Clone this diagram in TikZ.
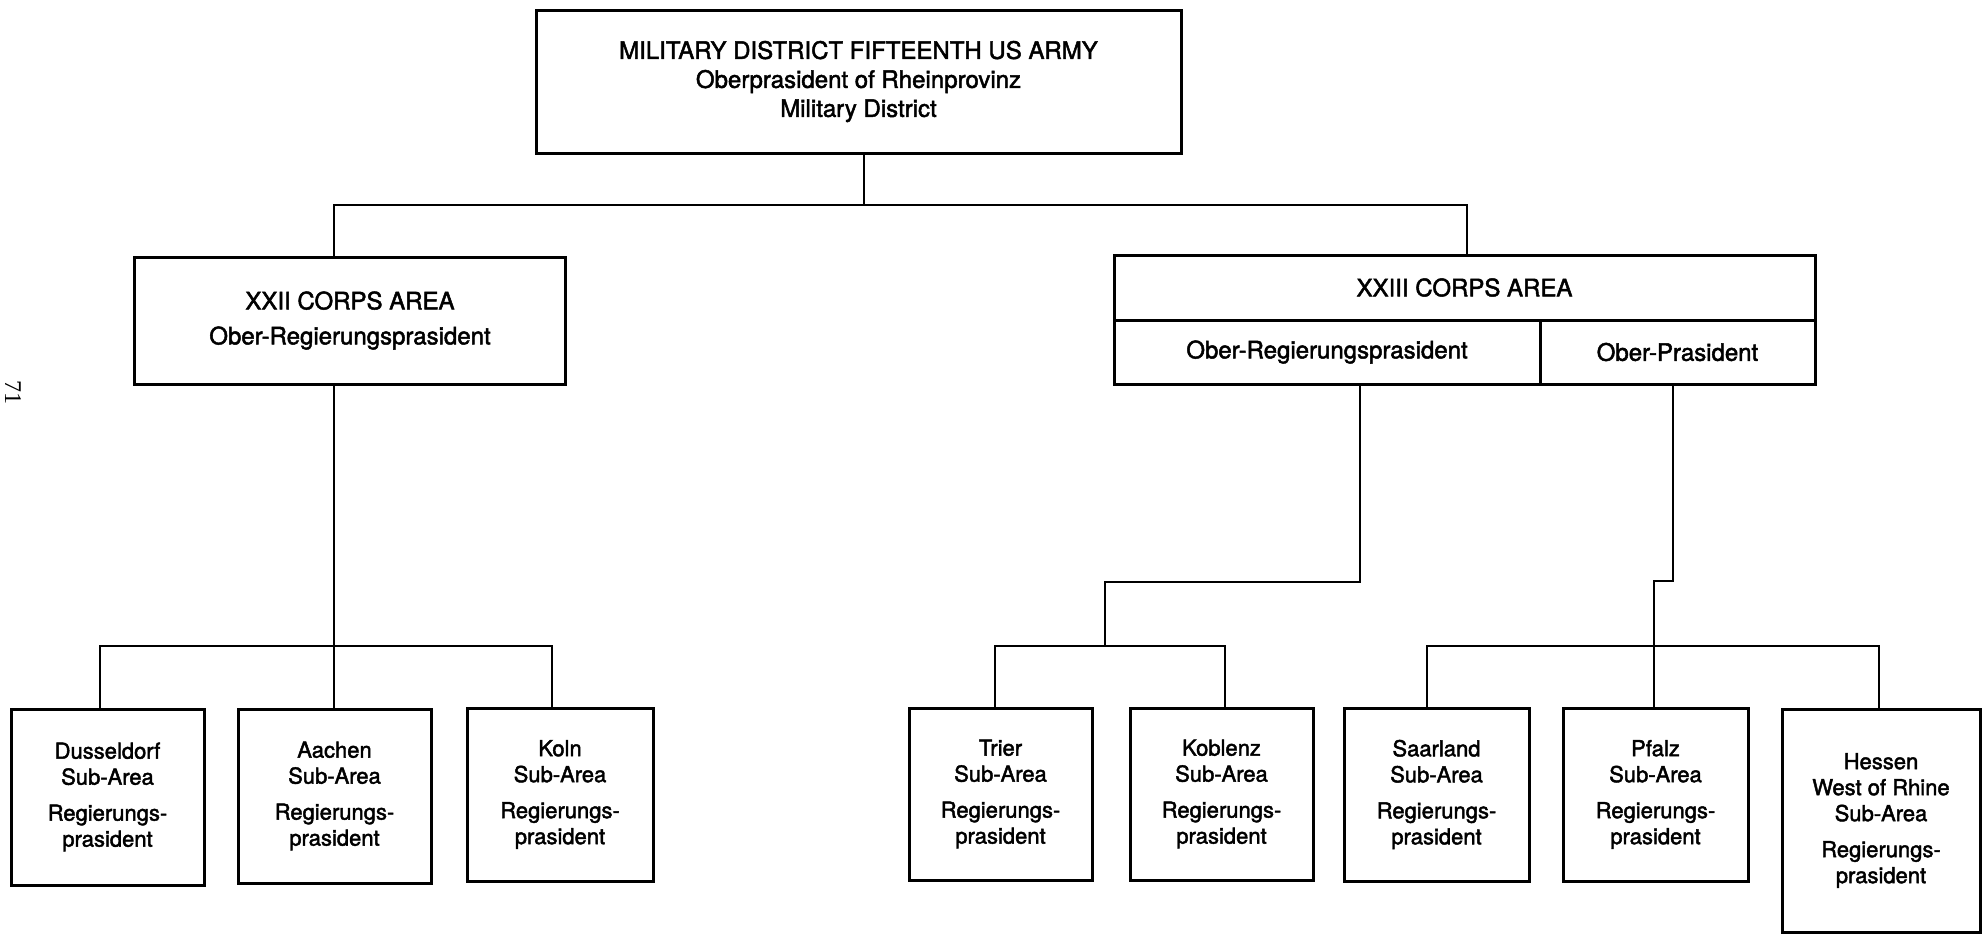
\documentclass[tikz,border=0pt]{standalone}
\usepackage{fontspec}
\setmainfont{TeX Gyre Heros}[FakeBold=2]
\newfontfamily\serifnum{Liberation Serif}
\begin{document}
\begin{tikzpicture}[x=0.5pt,y=-0.5pt,
  box/.style={draw, line width=1.5pt, inner sep=0pt, align=center},
  conn/.style={line width=1.3pt},
  big/.style={font=\fontsize{12}{14.5}\selectfont},
  small/.style={font=\fontsize{11}{13}\selectfont}]
\useasboundingbox (0,0) rectangle (1983,934);

% top
\node[box,big,minimum width=322.5pt,minimum height=71.5pt] (top) at (858.5,81.5)
  {MILITARY DISTRICT FIFTEENTH US ARMY\\Oberprasident of Rheinprovinz\\Military District};

% corps
\node[box,big,minimum width=215.5pt,minimum height=63.5pt] (c22) at (350,320.5)
  {XXII CORPS AREA\\[3pt]Ober-Regierungsprasident};
\node[box,big,minimum width=350.5pt,minimum height=32.5pt] (c23) at (1464.5,287.5) {XXIII CORPS AREA};
\node[box,big,minimum width=213pt,minimum height=32pt] (orp) at (1327,352) {Ober-Regierungsprasident};
\node[box,big,minimum width=137.5pt,minimum height=32pt] (op) at (1677.5,352) {Ober-Prasident};

% sub-areas
\node[box,small,minimum width=96.5pt,minimum height=88pt] (dus) at (107.5,797)
  {Dusseldorf\\Sub-Area\\[5pt]Regierungs-\\prasident};
\node[box,small,minimum width=96.5pt,minimum height=87pt] (aac) at (334.5,796)
  {Aachen\\Sub-Area\\[5pt]Regierungs-\\prasident};
\node[box,small,minimum width=93pt,minimum height=86.5pt] (kol) at (560,794.5)
  {Koln\\Sub-Area\\[5pt]Regierungs-\\prasident};
\node[box,small,minimum width=91.5pt,minimum height=86pt] (tri) at (1000.5,794)
  {Trier\\Sub-Area\\[5pt]Regierungs-\\prasident};
\node[box,small,minimum width=91.5pt,minimum height=86pt] (kob) at (1221.5,794)
  {Koblenz\\Sub-Area\\[5pt]Regierungs-\\prasident};
\node[box,small,minimum width=92.5pt,minimum height=86.5pt] (saa) at (1436.5,794.5)
  {Saarland\\Sub-Area\\[5pt]Regierungs-\\prasident};
\node[box,small,minimum width=92.5pt,minimum height=86.5pt] (pfa) at (1655.5,794.5)
  {Pfalz\\Sub-Area\\[5pt]Regierungs-\\prasident};
\node[box,small,minimum width=99pt,minimum height=111.5pt] (hes) at (1881,820.5)
  {Hessen\\West of Rhine\\Sub-Area\\[5pt]Regierungs-\\prasident};

% page number
\node[rotate=-90,font=\serifnum\fontsize{12}{12}\selectfont] (pg) at (13,392) {71};

% connectors
\coordinate (s0) at (864,205);
\coordinate (hL) at (334,205);
\coordinate (hR) at (1467,205);
\draw[conn] (top.south -| s0) -- (s0);
\draw[conn] (c22.north -| hL) -- (hL) -- (hR) -- (c23.north -| hR);

\coordinate (bL) at (334,646);
\coordinate (d1) at (100,646);
\coordinate (k1) at (552,646);
\draw[conn] (c22.south -| bL) -- (aac.north -| bL);
\draw[conn] (dus.north -| d1) -- (d1) -- (k1) -- (kol.north -| k1);

\coordinate (r1) at (1360,582);
\coordinate (r2) at (1105,582);
\coordinate (r3) at (1105,646);
\coordinate (t1) at (995,646);
\coordinate (k2) at (1225,646);
\draw[conn] (orp.south -| r1) -- (r1) -- (r2) -- (r3);
\draw[conn] (tri.north -| t1) -- (t1) -- (k2) -- (kob.north -| k2);

\coordinate (p1) at (1673,581);
\coordinate (p2) at (1654,581);
\coordinate (s1) at (1427,646);
\coordinate (h1) at (1879,646);
\draw[conn] (op.south -| p1) -- (p1) -- (p2) -- (pfa.north -| p2);
\draw[conn] (saa.north -| s1) -- (s1) -- (h1) -- (hes.north -| h1);
\end{tikzpicture}
\end{document}
